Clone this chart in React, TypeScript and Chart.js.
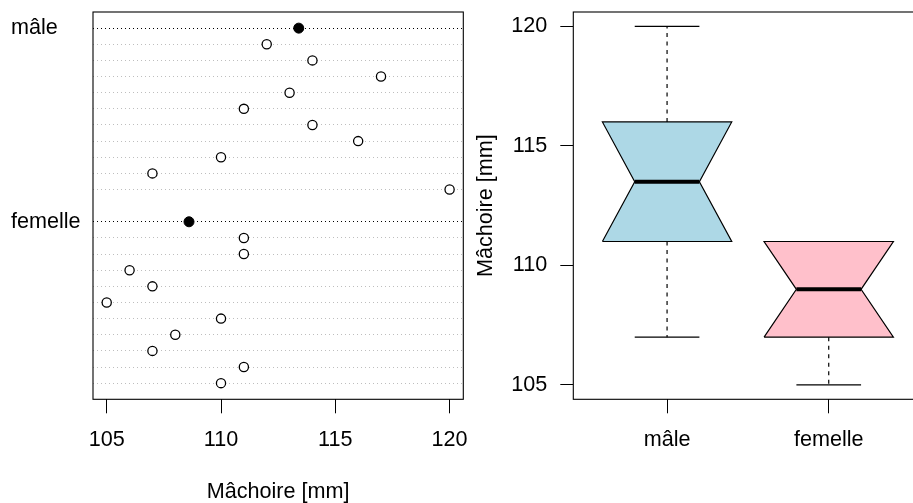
import React, { useEffect, useRef } from 'react';
import { Chart, registerables } from 'chart.js';

Chart.register(...registerables);

// ---------- data ----------
const groupLabels = ['mâle', 'femelle'];
const maleValues = [112, 114, 117, 113, 111, 114, 116, 110, 107, 120];
const femaleValues = [111, 111, 106, 107, 105, 110, 108, 107, 111, 110];
const groupMeans = [113.4, 108.6];
const axisTicks = [105, 110, 115, 120];
const axisTitle = 'Mâchoire [mm]';

// boxplot statistics (per group: mâle, femelle)
const whiskerLow = [107, 105];
const hingeLow = [111, 107];
const medians = [113.5, 109];
const hingeHigh = [116, 111];
const whiskerHigh = [120, 111];
const notchLow = [111, 107];
const notchHigh = [116, 111];
const boxColors = ['#ADD8E6', '#FFC0CB'];

const FONT = "'Liberation Sans', Arial, Helvetica, sans-serif";
const FS = 21.6;

const framePlugin = {
  id: 'frame',
  afterDatasetsDraw(chart: any) {
    const { ctx, chartArea } = chart;
    const { left, top, right, bottom } = chartArea;
    ctx.save();
    ctx.strokeStyle = '#000';
    ctx.lineWidth = 1.1;
    ctx.strokeRect(left, top, right - left, bottom - top);
    ctx.restore();
  },
};

const noPad = (s: any) => {
  s.paddingLeft = 0;
  s.paddingRight = 0;
  s.paddingTop = 0;
  s.paddingBottom = 0;
};

const groupValues = [maleValues, femaleValues];

function DotChart() {
  const ref = useRef<HTMLCanvasElement | null>(null);
  useEffect(() => {
    if (!ref.current) return;
    const rowsPerGroup = maleValues.length + 2;
    const groupRows: number[] = groupLabels.map((_, g) => g * rowsPerGroup);
    const allRows: number[] = [];
    const pts: { x: number; y: number }[] = [];
    groupValues.forEach((vals, g) => {
      allRows.push(groupRows[g]);
      vals.forEach((v, i) => {
        allRows.push(groupRows[g] + 1 + i);
        pts.push({ x: v, y: groupRows[g] + 1 + i });
      });
    });
    const meanPts = groupMeans.map((m, g) => ({ x: m, y: groupRows[g] }));
    const totalRows = groupRows[groupRows.length - 1] + femaleValues.length;

    const chart = new Chart(ref.current, {
      type: 'scatter',
      data: {
        datasets: [
          {
            data: meanPts,
            pointRadius: 5,
            pointBackgroundColor: '#000',
            pointBorderColor: '#000',
            pointBorderWidth: 1,
          },
          {
            data: pts,
            pointRadius: 4.6,
            pointBackgroundColor: '#fff',
            pointBorderColor: '#000',
            pointBorderWidth: 1.3,
          },
        ],
      },
      options: {
        animation: false,
        responsive: false,
        events: [],
        layout: { padding: { left: 11, right: 6.7, top: 12, bottom: 0 } },
        plugins: { legend: { display: false }, tooltip: { enabled: false } },
        scales: {
          x: {
            type: 'linear',
            min: 104.4,
            max: 120.6,
            afterBuildTicks: (s: any) => {
              s.ticks = axisTicks.map((v) => ({ value: v }));
            },
            afterFit: (s: any) => {
              s.height = 103.7;
              noPad(s);
            },
            grid: { drawOnChartArea: false, drawTicks: true, tickLength: 14, color: '#000', lineWidth: 1 },
            border: { display: false },
            ticks: { font: { family: FONT, size: FS }, color: '#000', padding: 14, maxRotation: 0, autoSkip: false },
            title: {
              display: true,
              text: axisTitle,
              color: '#000',
              font: { family: FONT, size: FS, lineHeight: 1 },
              padding: { top: 0, bottom: 0 },
            },
          },
          y: {
            type: 'linear',
            reverse: true,
            min: -1,
            max: totalRows + 1,
            afterBuildTicks: (s: any) => {
              s.ticks = allRows.map((v) => ({ value: v }));
            },
            afterFit: (s: any) => {
              s.width = 82;
              noPad(s);
            },
            grid: {
              drawTicks: false,
              lineWidth: 1,
              color: (c: any) => (c.tick && groupRows.includes(c.tick.value) ? '#000' : '#BEBEBE'),
            },
            border: { display: false, dash: [1, 3] },
            ticks: {
              autoSkip: false,
              crossAlign: 'far',
              padding: 0,
              color: '#000',
              font: { family: FONT, size: FS },
              callback: (v: any) => {
                const gi = groupRows.indexOf(Number(v));
                return gi >= 0 ? groupLabels[gi] : '';
              },
            },
          },
        },
      },
      plugins: [framePlugin],
    } as any);
    return () => chart.destroy();
  }, []);
  return <canvas ref={ref} width={470} height={503} style={{ position: 'absolute', left: 0, top: 0, width: 470, height: 503 }} />;
}

function BoxChart() {
  const ref = useRef<HTMLCanvasElement | null>(null);
  useEffect(() => {
    if (!ref.current) return;
    const wb = 0.4;
    const wn = 0.2;
    const datasets: any[] = [];
    groupLabels.forEach((_, g) => {
      const c = g + 1;
      datasets.push({
        data: [
          { x: c - wb, y: hingeLow[g] },
          { x: c - wb, y: notchLow[g] },
          { x: c - wn, y: medians[g] },
          { x: c - wb, y: notchHigh[g] },
          { x: c - wb, y: hingeHigh[g] },
          { x: c + wb, y: hingeHigh[g] },
          { x: c + wb, y: notchHigh[g] },
          { x: c + wn, y: medians[g] },
          { x: c + wb, y: notchLow[g] },
          { x: c + wb, y: hingeLow[g] },
          { x: c - wb, y: hingeLow[g] },
        ],
        showLine: true,
        fill: 'shape',
        backgroundColor: boxColors[g],
        borderColor: '#000',
        borderWidth: 1.2,
        pointRadius: 0,
        tension: 0,
        order: 3,
      });
      const line = (pts: any[], extra: any) => ({
        data: pts,
        showLine: true,
        fill: false,
        borderColor: '#000',
        borderWidth: 1.2,
        pointRadius: 0,
        tension: 0,
        order: 1,
        ...extra,
      });
      datasets.push(line([{ x: c, y: hingeHigh[g] }, { x: c, y: whiskerHigh[g] }], { borderDash: [4, 4.5] }));
      datasets.push(line([{ x: c, y: hingeLow[g] }, { x: c, y: whiskerLow[g] }], { borderDash: [4, 4.5] }));
      datasets.push(line([{ x: c - wn, y: whiskerHigh[g] }, { x: c + wn, y: whiskerHigh[g] }], {}));
      datasets.push(line([{ x: c - wn, y: whiskerLow[g] }, { x: c + wn, y: whiskerLow[g] }], {}));
      datasets.push(line([{ x: c - wn, y: medians[g] }, { x: c + wn, y: medians[g] }], { borderWidth: 4, borderCapStyle: 'butt', order: 0 }));
    });

    const chart = new Chart(ref.current, {
      type: 'scatter',
      data: { datasets },
      options: {
        animation: false,
        responsive: false,
        events: [],
        layout: { padding: { left: 5, right: 7.5, top: 12, bottom: 0 } },
        plugins: { legend: { display: false }, tooltip: { enabled: false } },
        scales: {
          x: {
            type: 'linear',
            min: 0.42,
            max: 2.58,
            afterBuildTicks: (s: any) => {
              s.ticks = groupLabels.map((_, g) => ({ value: g + 1 }));
            },
            afterFit: (s: any) => {
              s.height = 103.7;
              noPad(s);
            },
            grid: { drawOnChartArea: false, drawTicks: true, tickLength: 14, color: '#000', lineWidth: 1 },
            border: { display: false },
            ticks: {
              autoSkip: false,
              font: { family: FONT, size: FS },
              color: '#000',
              padding: 14,
              maxRotation: 0,
              callback: (v: any) => groupLabels[Math.round(Number(v)) - 1] ?? '',
            },
          },
          y: {
            type: 'linear',
            min: 104.4,
            max: 120.6,
            afterBuildTicks: (s: any) => {
              s.ticks = axisTicks.map((v) => ({ value: v }));
            },
            afterFit: (s: any) => {
              s.width = 98.3;
              noPad(s);
            },
            grid: { drawOnChartArea: false, drawTicks: true, tickLength: 13, color: '#000', lineWidth: 1 },
            border: { display: false },
            ticks: { autoSkip: false, font: { family: FONT, size: FS }, color: '#000', padding: 13 },
            title: {
              display: true,
              text: axisTitle,
              color: '#000',
              font: { family: FONT, size: FS, lineHeight: 1 },
              padding: { top: 0, bottom: 0 },
            },
          },
        },
      },
      plugins: [framePlugin],
    } as any);
    return () => chart.destroy();
  }, []);
  return <canvas ref={ref} width={460} height={503} style={{ position: 'absolute', left: 470, top: 0, width: 460, height: 503 }} />;
}

export default function App() {
  return (
    <div style={{ position: 'fixed', left: 0, top: 0, width: 913, height: 503, overflow: 'hidden', background: '#fff' }}>
      <DotChart />
      <BoxChart />
    </div>
  );
}
